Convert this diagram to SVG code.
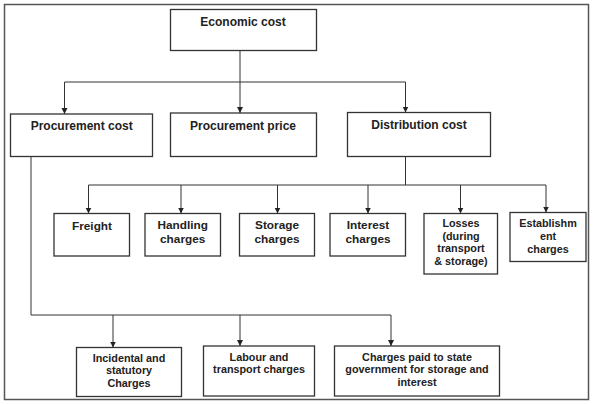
<svg xmlns="http://www.w3.org/2000/svg" width="593" height="404" viewBox="0 0 593 404">
<style>
  .box { fill: #ffffff; stroke: #333333; stroke-width: 1.3; }
  .t { font-family: "Liberation Sans", Arial, sans-serif; font-weight: bold; fill: #222222; text-anchor: middle; }
  .big { font-size: 12px; }
  .mid { font-size: 11.8px; }
  .sm { font-size: 10.8px; }
  .ln { fill: none; stroke: #333333; stroke-width: 1; }
  .ar { fill: none; stroke: #333333; stroke-width: 1; marker-end: url(#ah); }
</style>
<defs>
  <marker id="ah" markerUnits="userSpaceOnUse" markerWidth="6" markerHeight="7" refX="6" refY="3" orient="auto">
    <path d="M0,0 L6,3 L0,6 z" fill="#222222"/>
  </marker>
</defs>
<rect x="0" y="0" width="593" height="404" fill="#ffffff"/>
<rect x="4.5" y="4.5" width="584" height="395" fill="none" stroke="#555555" stroke-width="1.5"/>

<g id="connectors">
  <line class="ar" x1="240" y1="50.5" x2="240" y2="113"/>
  <polyline class="ln" points="64.5,82 405.5,82"/>
  <line class="ar" x1="64.5" y1="82" x2="64.5" y2="114"/>
  <line class="ar" x1="405.5" y1="82" x2="405.5" y2="112.5"/>

  <line class="ln" x1="405.5" y1="156.5" x2="405.5" y2="185"/>
  <polyline class="ln" points="88.5,185 546,185"/>
  <line class="ar" x1="88.5" y1="185" x2="88.5" y2="213.5"/>
  <line class="ar" x1="181" y1="185" x2="181" y2="213.5"/>
  <line class="ar" x1="277.5" y1="185" x2="277.5" y2="213.5"/>
  <line class="ar" x1="368" y1="185" x2="368" y2="213.5"/>
  <line class="ar" x1="460.5" y1="185" x2="460.5" y2="213.5"/>
  <line class="ar" x1="546" y1="185" x2="546" y2="212.5"/>

  <polyline class="ln" points="31,156.5 31,315 391,315"/>
  <line class="ar" x1="113" y1="315" x2="113" y2="347.5"/>
  <line class="ar" x1="240" y1="315" x2="240" y2="346"/>
  <line class="ar" x1="391" y1="315" x2="391" y2="346"/>
</g>

<g id="economic-cost">
  <rect class="box" x="170.5" y="9.5" width="146" height="41"/>
  <text class="t big" x="243" y="25.5">Economic cost</text>
</g>
<g id="procurement-cost">
  <rect class="box" x="10.5" y="114" width="142" height="42.5"/>
  <text class="t big" x="81.7" y="130">Procurement cost</text>
</g>
<g id="procurement-price">
  <rect class="box" x="170.5" y="113" width="146" height="43.5"/>
  <text class="t big" x="243" y="129.5">Procurement price</text>
</g>
<g id="distribution-cost">
  <rect class="box" x="347.5" y="112.5" width="143" height="44"/>
  <text class="t big" x="419" y="129">Distribution cost</text>
</g>

<g id="freight">
  <rect class="box" x="54" y="213.5" width="75.5" height="42.5"/>
  <text class="t mid" x="92" y="230">Freight</text>
</g>
<g id="handling-charges">
  <rect class="box" x="145" y="213.5" width="75.5" height="42.5"/>
  <text class="t mid" x="182.7" y="229.3">Handling</text>
  <text class="t mid" x="182.7" y="243">charges</text>
</g>
<g id="storage-charges">
  <rect class="box" x="239.5" y="213.5" width="75" height="42.5"/>
  <text class="t mid" x="277" y="229.3">Storage</text>
  <text class="t mid" x="277" y="243">charges</text>
</g>
<g id="interest-charges">
  <rect class="box" x="330" y="213.5" width="75.5" height="42.5"/>
  <text class="t mid" x="368" y="229.3">Interest</text>
  <text class="t mid" x="368" y="243">charges</text>
</g>
<g id="losses">
  <rect class="box" x="424" y="213.5" width="73.5" height="60.5"/>
  <text class="t sm" x="461" y="227">Losses</text>
  <text class="t sm" x="461" y="239.5">(during</text>
  <text class="t sm" x="461" y="252">transport</text>
  <text class="t sm" x="461" y="264.5">&amp; storage)</text>
</g>
<g id="establishment-charges">
  <rect class="box" x="510" y="212.5" width="76" height="49"/>
  <text class="t sm" x="548" y="226.5">Establishm</text>
  <text class="t sm" x="548" y="239.5">ent</text>
  <text class="t sm" x="548" y="252.5">charges</text>
</g>

<g id="incidental-charges">
  <rect class="box" x="76.5" y="347.5" width="105" height="49"/>
  <text class="t sm" x="129" y="361.5">Incidental and</text>
  <text class="t sm" x="129" y="374">statutory</text>
  <text class="t sm" x="129" y="386.5">Charges</text>
</g>
<g id="labour-transport-charges">
  <rect class="box" x="203.5" y="346" width="111" height="50"/>
  <text class="t sm" x="259" y="360.5">Labour and</text>
  <text class="t sm" x="259" y="373">transport charges</text>
</g>
<g id="state-government-charges">
  <rect class="box" x="334.5" y="346" width="165" height="50"/>
  <text class="t sm" x="417" y="360.5">Charges paid to state</text>
  <text class="t sm" x="417" y="373">government for storage and</text>
  <text class="t sm" x="417" y="385.5">interest</text>
</g>
</svg>
